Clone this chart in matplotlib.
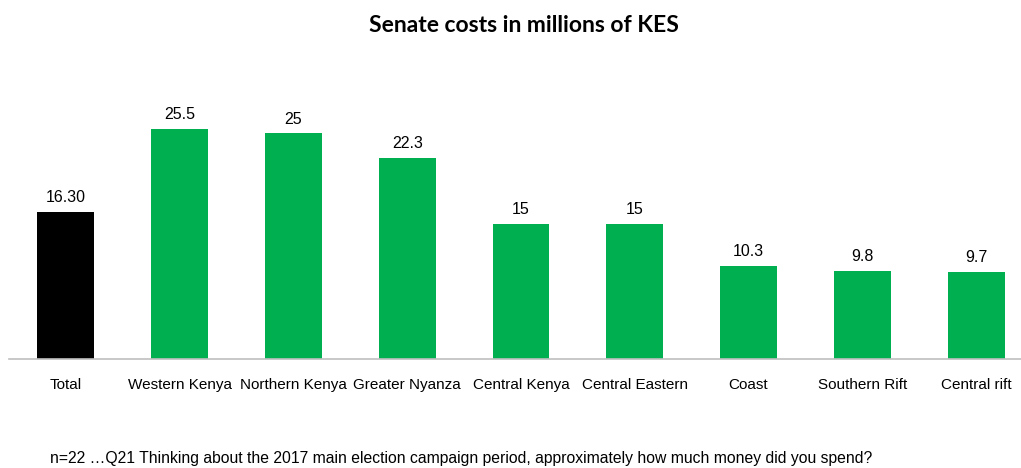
import matplotlib
matplotlib.use("Agg")
import matplotlib.pyplot as plt

categories = ["Total", "Western Kenya", "Northern Kenya", "Greater Nyanza", "Central Kenya",
              "Central Eastern", "Coast", "Southern Rift", "Central rift"]
values = [16.30, 25.5, 25, 22.3, 15, 15, 10.3, 9.8, 9.7]
value_labels = ["16.30", "25.5", "25", "22.3", "15", "15", "10.3", "9.8", "9.7"]
colors = ["#000000"] + ["#00B050"] * 8

fig = plt.figure(figsize=(10.21, 4.68), dpi=100)
ax = fig.add_axes([9/1021, (468-359)/468, 1024/1021, 259/468])
x = list(range(len(categories)))
ax.bar(x, values, width=0.5, color=colors)
ax.set_xlim(-0.5, 8.5)
ax.set_ylim(0, 259/9.02)
for xi, v, lab in zip(x, values, value_labels):
    ax.annotate(lab, (xi, v), xytext=(0, 5), textcoords="offset points",
                ha="center", va="bottom", fontsize=11.5, family="Liberation Sans")
ax.set_xticks(x)
ax.set_xticklabels(categories, fontsize=11, family="Liberation Sans")
ax.tick_params(axis="x", length=0, pad=14)
ax.set_yticks([])
for s in ["top", "right", "left"]:
    ax.spines[s].set_visible(False)
ax.spines["bottom"].set_color("#BFBFBF")
ax.spines["bottom"].set_linewidth(1.2)

fig.text(524/1021, 1 - 25/468, "Senate costs in millions of KES", ha="center", va="center",
         fontsize=16.5, fontweight="bold", family="Lato")
fig.text(50/1021, 1 - 459/468, "n=22 \u2026Q21 Thinking about the 2017 main election campaign period, approximately how much money did you spend?",
         ha="left", va="center", fontsize=11.3, family="Liberation Sans")

fig.savefig("out.png", dpi=100)
